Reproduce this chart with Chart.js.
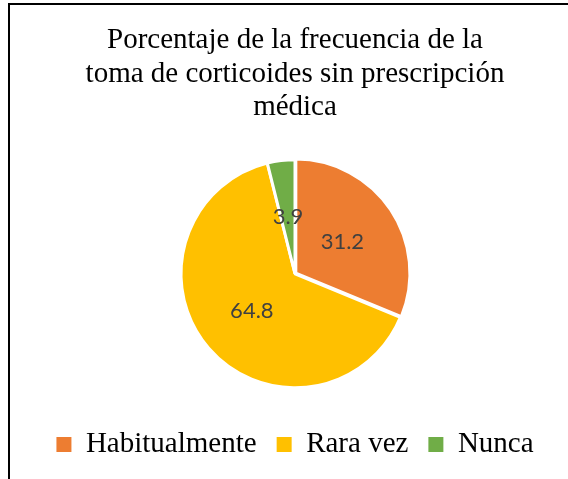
<!DOCTYPE html>
<html>
<head>
<meta charset="utf-8">
<script src="https://cdn.jsdelivr.net/npm/chart.js@4"></script>
<style>
  html, body { margin: 0; padding: 0; background: #fff; }
  #wrap { position: relative; width: 568px; height: 479px; overflow: hidden; }
  #frame {
    position: absolute; left: 8px; top: 3px; right: -20px; bottom: -20px;
    border-top: 2px solid #000; border-left: 2px solid #000;
  }
  canvas { position: absolute; left: 0; top: 0; }
</style>
</head>
<body>
<div id="wrap">
  <div id="frame"></div>
  <canvas id="pieChart" width="568" height="479"></canvas>
</div>
<script>
const categories = ['Habitualmente', 'Rara vez', 'Nunca'];
const values = [31.2, 64.8, 3.9];
const valueLabels = ['31.2', '64.8', '3.9'];
const colors = ['#ED7D31', '#FFC000', '#70AD47'];
const titleLines = ['Porcentaje de la frecuencia de la', 'toma de corticoides sin prescripción', 'médica'];

// draw the numbers in the middle of each slice
const sliceLabels = {
  id: 'sliceLabels',
  afterDatasetsDraw(chart) {
    const ctx = chart.ctx;
    const meta = chart.getDatasetMeta(0);
    ctx.save();
    ctx.font = '22px Lato';
    ctx.fillStyle = '#404040';
    ctx.textAlign = 'center';
    ctx.textBaseline = 'middle';
    meta.data.forEach((arc, i) => {
      const mid = (arc.startAngle + arc.endAngle) / 2;
      const r = arc.outerRadius * 0.5;
      ctx.fillText(valueLabels[i], arc.x + Math.cos(mid) * r, arc.y + Math.sin(mid) * r);
    });
    ctx.restore();
  }
};

const ctx = document.getElementById('pieChart').getContext('2d');
const pieChart = new Chart(ctx, {
  type: 'pie',
  data: {
    labels: categories,
    datasets: [{
      data: values,
      backgroundColor: colors,
      borderColor: '#fff',
      borderWidth: 3,
      offset: [4, 0, 0]
    }]
  },
  options: {
    responsive: false,
    animation: false,
    devicePixelRatio: 1,
    radius: 114,
    layout: { padding: { left: 22, right: 0, top: 0, bottom: 10 } },
    plugins: {
      tooltip: { enabled: false },
      title: {
        display: true,
        text: titleLines,
        color: '#000',
        font: { family: 'Liberation Serif', size: 29, weight: 'normal', lineHeight: 33.5 / 29 },
        padding: { top: 24, bottom: 13 }
      },
      legend: {
        position: 'bottom',
        labels: {
          color: '#000',
          font: { family: 'Liberation Serif', size: 29 },
          boxWidth: 15,
          boxHeight: 15,
          padding: 20,
          generateLabels: chart => categories.map((c, i) => ({
            text: c,
            fillStyle: colors[i],
            strokeStyle: colors[i],
            lineWidth: 0,
            hidden: false,
            index: i
          }))
        }
      }
    }
  },
  plugins: [sliceLabels]
});
</script>
</body>
</html>
